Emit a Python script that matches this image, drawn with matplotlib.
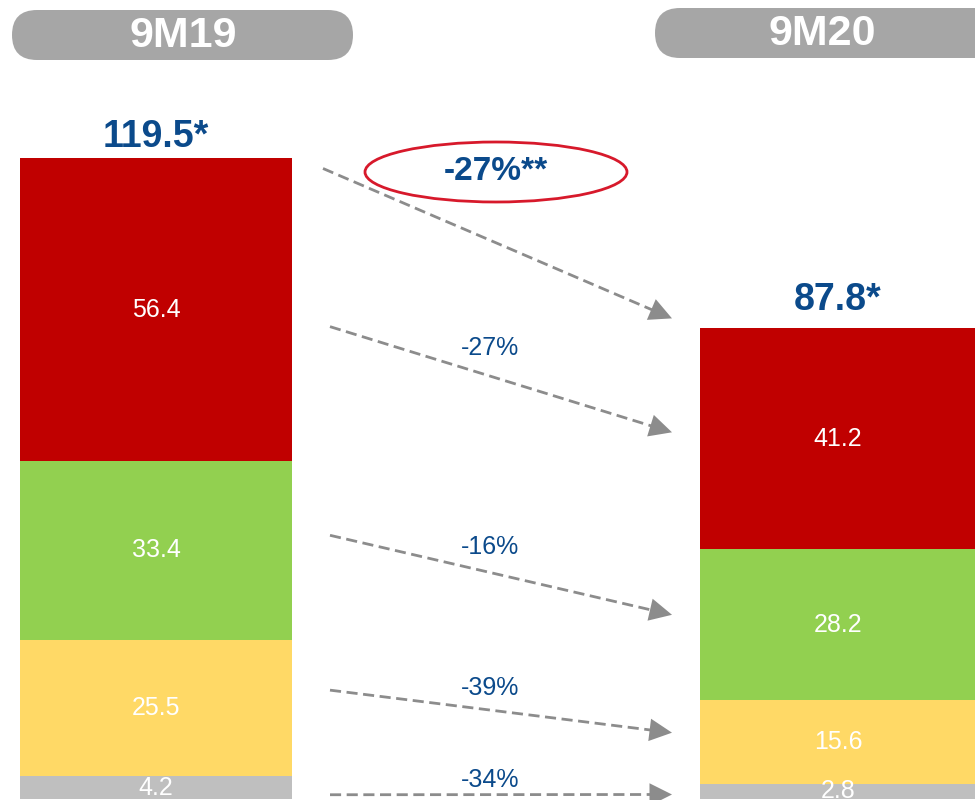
import numpy as np
import matplotlib.pyplot as plt
from matplotlib.patches import Ellipse, FancyBboxPatch

plt.rcParams['font.family'] = ['Liberation Sans', 'DejaVu Sans']

# data, bottom to top
periods = ['9M19', '9M20']
segments_19 = [4.2, 25.5, 33.4, 56.4]
segments_20 = [2.8, 15.6, 28.2, 41.2]
totals = ['119.5*', '87.8*']
changes = ['-34%', '-39%', '-16%', '-27%']
total_change = '-27%**'
seg_colors = ['#BFBFBF', '#FFD966', '#92D050', '#C00000']

blue = '#0B4A8B'
arrow_gray = '#8C8C8C'
ppu = 5.36          # pixels per unit
base_px = 799       # pixel row of zero

fig = plt.figure(figsize=(9.75, 8), dpi=100)
ax = fig.add_axes([0, 0, 1, 1])
ax.set_xlim(0, 975)
ax.set_ylim(-1 / ppu, base_px / ppu)
ax.axis('off')

bar_x = [156, 838]
bar_w = [272, 276]
total_lift = [21, 28]   # px above bar top

mids = []
for i, segs in enumerate([segments_19, segments_20]):
    bottom = 0
    m = []
    for val, col in zip(segs, seg_colors):
        ax.bar(bar_x[i], val, bottom=bottom, width=bar_w[i], color=col, edgecolor='none')
        ax.text(bar_x[i], bottom + val / 2, f'{val:.1f}', ha='center', va='center',
                color='white', fontsize=18)
        m.append(bottom + val / 2)
        bottom += val
    mids.append(m)
    ax.text(bar_x[i], bottom + total_lift[i] / ppu, totals[i], ha='center', va='center',
            color=blue, fontsize=27, fontweight='bold')

tot19 = sum(segments_19)
tot20 = sum(segments_20)


def dashed_arrow(x0, y0, x1, y1):
    # dashed shaft plus a solid triangular head
    dx, dy = x1 - x0, (y1 - y0) * ppu
    L = np.hypot(dx, dy)
    back = 14 / L
    xs, ys = x1 - dx * back, y1 - (y1 - y0) * back
    ax.plot([x0, xs], [y0, ys], color=arrow_gray, lw=2, dashes=(4, 2))
    ax.annotate('', xy=(x1, y1), xytext=(xs, ys),
                arrowprops=dict(arrowstyle='-|>,head_length=0.9,head_width=0.45',
                                color=arrow_gray, lw=0, mutation_scale=18,
                                shrinkA=0, shrinkB=0))


# per-segment arrows (pixel offsets from segment middles)
start_off = [-7, 18, 15, -17]
end_off = [-3, 9.5, 10, 6.5]
label_lift = [15, 23, 28, 31]
x_start, x_end = 330, 672
for k in range(4):
    y0 = mids[0][k] + start_off[k] / ppu
    y1 = mids[1][k] + end_off[k] / ppu
    dashed_arrow(x_start, y0, x_end, y1)
    ym = (y0 + y1) / 2 + label_lift[k] / ppu
    ax.text(490, ym, changes[k], ha='center', va='center', color=blue, fontsize=18)

# total arrow
y0 = tot19 - 10 / ppu
y1 = tot20 + 10 / ppu
dashed_arrow(323, y0, x_end, y1)

# overlay in pixel coordinates for pills and ellipse
ov = fig.add_axes([0, 0, 1, 1])
ov.set_xlim(0, 975)
ov.set_ylim(800, 0)
ov.axis('off')

pills = [(12, 10, 341, 50), (655, 8, 345, 50)]
pill_text_x = [183, 822]
for (px, py, pw, ph), lab, tx in zip(pills, periods, pill_text_x):
    ov.add_patch(FancyBboxPatch((px, py), pw, ph,
                                boxstyle='round,pad=0,rounding_size=25',
                                facecolor='#A6A6A6', edgecolor='none'))
    ov.text(tx, py + ph / 2 + 1, lab, ha='center', va='center', color='white',
            fontsize=31, fontweight='bold',
            family=['Liberation Sans Narrow', 'Liberation Sans', 'DejaVu Sans'])

ov.add_patch(Ellipse((496, 172), 262, 60, facecolor='none', edgecolor='#D7192B', lw=2))
ov.text(496, 172, total_change, ha='center', va='center', color=blue,
        fontsize=24, fontweight='bold')

fig.savefig('out.png', dpi=100)
